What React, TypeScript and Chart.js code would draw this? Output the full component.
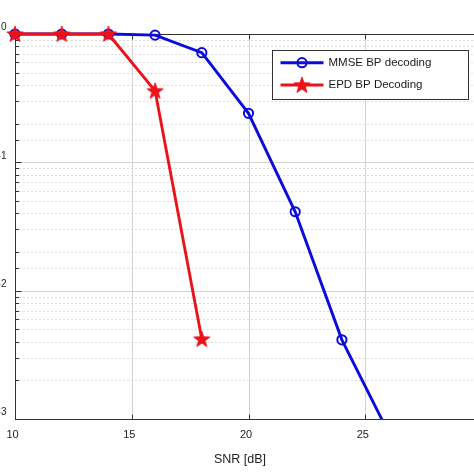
import React, { useEffect, useRef } from "react";
import { Chart, registerables } from "chart.js";

Chart.register(...registerables);

// ---- data ----
const snrMmse = [10, 12, 14, 16, 18, 20, 22, 24, 26];
const berMmse = [1, 1, 1, 0.98, 0.715, 0.241, 0.0412, 0.00414, 0.00078];
const snrEpd = [10, 12, 14, 16, 18];
const berEpd = [1, 1, 1, 0.361, 0.0042];
const seriesLabels = ["MMSE BP decoding", "EPD BP Decoding"];
const xTickValues = [10, 15, 20, 25, 30];
const xTitle = "SNR [dB]";

const FONT = '"Liberation Sans", Arial, Helvetica, sans-serif';
const BLUE = "#0b0bdc";
const RED = "#ec1218";
const AXIS = "#333333";

function makeStar(color: string): HTMLCanvasElement {
  const c = document.createElement("canvas");
  c.width = 20;
  c.height = 20;
  const g = c.getContext("2d")!;
  const R = 8.6;
  const r = 3.5;
  g.beginPath();
  for (let i = 0; i < 10; i++) {
    const rad = i % 2 === 0 ? R : r;
    const a = -Math.PI / 2 + (i * Math.PI) / 5;
    const px = 10 + rad * Math.cos(a);
    const py = 10.6 + rad * Math.sin(a);
    if (i === 0) g.moveTo(px, py);
    else g.lineTo(px, py);
  }
  g.closePath();
  g.fillStyle = color;
  g.fill();
  g.lineWidth = 0.8;
  g.strokeStyle = color;
  g.stroke();
  return c;
}

const isDecade = (v: number) => {
  const l = Math.log10(v);
  return Math.abs(l - Math.round(l)) < 1e-6;
};

const framePlugin = {
  id: "frame",
  beforeDatasetsDraw(chart: any) {
    const { ctx, chartArea: a, scales } = chart;
    const xs = scales.x;
    const ys = scales.y;
    const L = Math.round(a.left) + 0.5;
    const R = Math.round(a.right) + 0.5;
    const T = Math.round(a.top) + 0.5;
    const B = Math.round(a.bottom) + 0.5;
    ctx.save();
    ctx.lineWidth = 1;
    // horizontal grid
    ys.ticks.forEach((t: any) => {
      const py = Math.round(ys.getPixelForValue(t.value)) + 0.5;
      if (py <= T + 1 || py >= B - 1) return;
      const major = isDecade(t.value);
      ctx.strokeStyle = major ? "#d4d4d4" : "#b8b8b8";
      ctx.setLineDash(major ? [] : [1, 3]);
      ctx.beginPath();
      ctx.moveTo(L, py);
      ctx.lineTo(R, py);
      ctx.stroke();
    });
    ctx.setLineDash([]);
    // vertical grid
    xs.ticks.forEach((t: any) => {
      const px = Math.round(xs.getPixelForValue(t.value)) + 0.5;
      if (px <= L + 1 || px >= R - 1) return;
      ctx.strokeStyle = "#d4d4d4";
      ctx.beginPath();
      ctx.moveTo(px, T);
      ctx.lineTo(px, B);
      ctx.stroke();
    });
    // box
    ctx.strokeStyle = AXIS;
    ctx.strokeRect(L, T, R - L, B - T);
    // y ticks (inward)
    ys.ticks.forEach((t: any) => {
      const py = Math.round(ys.getPixelForValue(t.value)) + 0.5;
      const len = isDecade(t.value) ? 6 : 3.5;
      ctx.beginPath();
      ctx.moveTo(L, py);
      ctx.lineTo(L + len, py);
      ctx.moveTo(R, py);
      ctx.lineTo(R - len, py);
      ctx.stroke();
    });
    // x ticks (inward)
    xs.ticks.forEach((t: any) => {
      const px = Math.round(xs.getPixelForValue(t.value)) + 0.5;
      ctx.beginPath();
      ctx.moveTo(px, B);
      ctx.lineTo(px, B - 5);
      ctx.moveTo(px, T);
      ctx.lineTo(px, T + 5);
      ctx.stroke();
    });
    // y labels 10^e
    ctx.fillStyle = "#222";
    ys.ticks
      .filter((t: any) => isDecade(t.value))
      .forEach((t: any) => {
        const py = ys.getPixelForValue(t.value);
        const exp = String(Math.round(Math.log10(t.value)));
        ctx.textBaseline = "middle";
        ctx.textAlign = "right";
        ctx.font = `10px ${FONT}`;
        const right = a.left - 8.5;
        ctx.fillText(exp, right, py - 6.5);
        const w = ctx.measureText(exp).width;
        ctx.font = `11px ${FONT}`;
        ctx.fillText("10", right - w - 0.5, py + 1);
      });
    // x-axis title
    ctx.font = `12.5px ${FONT}`;
    ctx.textAlign = "center";
    ctx.textBaseline = "middle";
    ctx.fillText(xTitle, 240, 460);
    ctx.restore();
  },
  afterDatasetsDraw(chart: any) {
    const { ctx } = chart;
    const left = 272.5;
    const top = 50.5;
    const width = 196;
    const height = 49;
    ctx.save();
    ctx.fillStyle = "#ffffff";
    ctx.fillRect(left, top, width, height);
    ctx.strokeStyle = AXIS;
    ctx.lineWidth = 1;
    ctx.strokeRect(left, top, width, height);
    const rows = [62.7, 85];
    chart.data.datasets.forEach((ds: any, i: number) => {
      const y = rows[i];
      ctx.strokeStyle = ds.borderColor;
      ctx.lineWidth = ds.borderWidth;
      ctx.beginPath();
      ctx.moveTo(280.5, y);
      ctx.lineTo(323.5, y);
      ctx.stroke();
      const ps = ds.pointStyle;
      if (ps && typeof ps === "object") {
        ctx.drawImage(ps, 302 - ps.width / 2, y - ps.height / 2);
      } else {
        ctx.lineWidth = ds.pointBorderWidth;
        ctx.beginPath();
        ctx.arc(302, y, ds.pointRadius, 0, Math.PI * 2);
        ctx.stroke();
      }
      ctx.fillStyle = "#1a1a1a";
      ctx.font = `11.5px ${FONT}`;
      ctx.textAlign = "left";
      ctx.textBaseline = "middle";
      ctx.fillText(ds.label, 328.5, y);
    });
    ctx.restore();
  },
};

export default function App() {
  const ref = useRef<HTMLCanvasElement | null>(null);

  useEffect(() => {
    if (!ref.current) return;
    const star = makeStar(RED);
    const chart = new Chart(ref.current, {
      type: "line",
      data: {
        datasets: [
          {
            label: seriesLabels[0],
            data: snrMmse.map((x, i) => ({ x, y: berMmse[i] })),
            borderColor: BLUE,
            backgroundColor: "rgba(0,0,0,0)",
            borderWidth: 2.9,
            pointStyle: "circle",
            pointRadius: 4.6,
            pointBorderWidth: 2,
            pointBorderColor: BLUE,
            pointBackgroundColor: "rgba(0,0,0,0)",
            tension: 0,
            order: 1,
            clip: { left: 12, top: 12, right: 12, bottom: 0 } as any,
          },
          {
            label: seriesLabels[1],
            data: snrEpd.map((x, i) => ({ x, y: berEpd[i] })),
            borderColor: RED,
            backgroundColor: RED,
            borderWidth: 2.9,
            pointStyle: star as any,
            pointRadius: 8,
            tension: 0,
            order: 0,
            clip: { left: 12, top: 12, right: 12, bottom: 0 } as any,
          },
        ],
      },
      options: {
        animation: false,
        responsive: false,
        devicePixelRatio: 1,
        layout: { padding: { left: 0, top: 34, right: 18, bottom: 0 } },
        plugins: {
          legend: { display: false },
          tooltip: { enabled: false },
        },
        scales: {
          x: {
            type: "linear",
            position: "bottom",
            min: 10,
            max: 30,
            afterBuildTicks: (s: any) => {
              s.ticks = xTickValues.map((v) => ({ value: v }));
            },
            afterFit: (s: any) => {
              s.height = 55;
              s.paddingLeft = 0;
              s.paddingRight = 0;
            },
            grid: { display: false, drawTicks: false },
            border: { display: false },
            ticks: {
              color: "#222",
              font: { family: FONT, size: 11 },
              padding: 9,
              labelOffset: -2.5,
              maxRotation: 0,
              autoSkip: false,
            },
            title: { display: false },
          },
          y: {
            type: "logarithmic",
            position: "left",
            min: 0.001,
            max: 1,
            afterFit: (s: any) => {
              s.width = 15;
            },
            grid: { display: false, drawTicks: false },
            border: { display: false },
            ticks: { display: false },
          },
        },
      },
      plugins: [framePlugin],
    });
    return () => chart.destroy();
  }, []);

  return (
    <div
      style={{
        position: "fixed",
        left: 0,
        top: 0,
        width: 474,
        height: 474,
        overflow: "hidden",
        background: "#ffffff",
      }}
    >
      <canvas
        ref={ref}
        width={500}
        height={474}
        style={{ display: "block", width: 500, height: 474 }}
      />
    </div>
  );
}
